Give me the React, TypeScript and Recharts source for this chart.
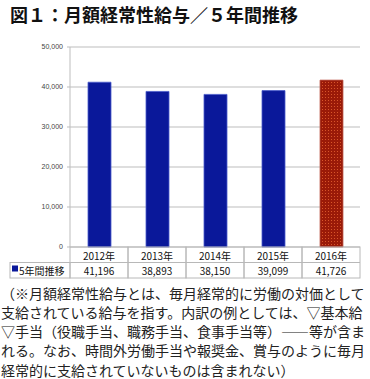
import React from 'react';
import { BarChart, Bar, XAxis, YAxis, CartesianGrid, Cell } from 'recharts';

const categories = ['2012年', '2013年', '2014年', '2015年', '2016年'];
const values = [41196, 38893, 38150, 39099, 41726];
const yTicks = [0, 10000, 20000, 30000, 40000, 50000];
const seriesName = '5年間推移';
const title = '図１：月額経常性給与／５年間推移';
const noteLines = [
  '（※月額経常性給与とは、毎月経常的に労働の対価として',
  '支給されている給与を指す。内訳の例としては、▽基本給',
  '▽手当（役職手当、職務手当、食事手当等）――等が含ま',
  'れる。なお、時間外労働手当や報奨金、賞与のように毎月',
  '経常的に支給されていないものは含まれない）',
];

const data = categories.map((c, i) => ({ name: c, value: values[i] }));

const JP = '"Noto Sans CJK JP", "Noto Sans", sans-serif';
const BORDER = '#b8b8b8';
const BLUE = '#0a189a';

const fmt = (v: number) => v.toLocaleString('en-US');

const TableTick = (props: any) => {
  const { x, y, payload, index } = props;
  const half = 29;
  const top = y;
  const mid = top + 15.5;
  const bot = top + 31;
  const i = payload?.index ?? index;
  return (
    <g>
      <rect x={x - half} y={top} width={half * 2} height={bot - top} fill="none" stroke={BORDER} strokeWidth={1} />
      <line x1={x - half} x2={x + half} y1={mid} y2={mid} stroke={BORDER} strokeWidth={1} />
      <text x={x} y={top + 8} textAnchor="middle" dominantBaseline="central" fontSize={10} fill="#111" fontFamily={JP}>
        {payload.value}
      </text>
      <text x={x} y={mid + 8} textAnchor="middle" dominantBaseline="central" fontSize={10} fill="#111" fontFamily={JP}>
        {fmt(values[i])}
      </text>
      {i === 0 && (
        <g>
          <rect x={x - half - 60} y={mid} width={60} height={bot - mid} fill="none" stroke={BORDER} strokeWidth={1} />
          <rect x={x - half - 58} y={mid + 3} width={6} height={6} fill={BLUE} />
          <text x={x - half - 51} y={mid + 8} dominantBaseline="central" fontSize={10} fill="#111" fontFamily={JP}>
            {seriesName}
          </text>
        </g>
      )}
    </g>
  );
};

export default function App() {
  return (
    <div style={{ position: 'absolute', left: 0, top: 0, width: 370, height: 379, background: '#fff', overflow: 'hidden' }}>
      <div
        style={{
          position: 'absolute',
          left: 10,
          top: 5,
          fontSize: 18,
          lineHeight: '18px',
          fontWeight: 700,
          fontFamily: JP,
          color: '#111',
          whiteSpace: 'nowrap',
        }}
      >
        {title}
      </div>
      <div style={{ position: 'absolute', left: 0, top: 0 }}>
        <BarChart width={370} height={282} data={data} margin={{ top: 47, right: 10, left: 0, bottom: 0 }} barCategoryGap={0}>
          <defs>
            <pattern id="dots" x="0" y="0" width="3" height="3" patternUnits="userSpaceOnUse">
              <rect x="0" y="0" width="3" height="3" fill="#9a1a08" />
              <rect x="1" y="1" width="1" height="1" fill="#d8552a" />
            </pattern>
          </defs>
          <CartesianGrid horizontal vertical={false} stroke="#bdbdbd" strokeWidth={1} />
          <YAxis
            width={70}
            domain={[0, 50000]}
            ticks={yTicks}
            interval={0}
            tickFormatter={fmt}
            axisLine={{ stroke: '#bdbdbd' }}
            tickLine={{ stroke: '#bdbdbd' }}
            tickSize={3}
            tickMargin={4}
            tick={{ fontSize: 7, fill: '#444', fontFamily: '"Liberation Sans", Arial, sans-serif' }}
          />
          <XAxis
            dataKey="name"
            height={35}
            axisLine={false}
            tickLine={false}
            tickSize={0}
            tickMargin={0}
            interval={0}
            tick={<TableTick />}
          />
          <Bar dataKey="value" barSize={23} isAnimationActive={false}>
            {data.map((d, i) => (
              <Cell
                key={d.name}
                fill={i === 4 ? 'url(#dots)' : BLUE}
                stroke={i === 4 ? '#c06050' : '#4a5ccc'}
                strokeWidth={0.8}
              />
            ))}
          </Bar>
        </BarChart>
      </div>
      <div
        style={{
          position: 'absolute',
          left: 1,
          top: 283.5,
          fontSize: 14,
          lineHeight: '19.25px',
          fontFamily: JP,
          color: '#222',
          whiteSpace: 'nowrap',
        }}
      >
        {noteLines.map((l, i) => (
          <div key={i}>{l}</div>
        ))}
      </div>
    </div>
  );
}
